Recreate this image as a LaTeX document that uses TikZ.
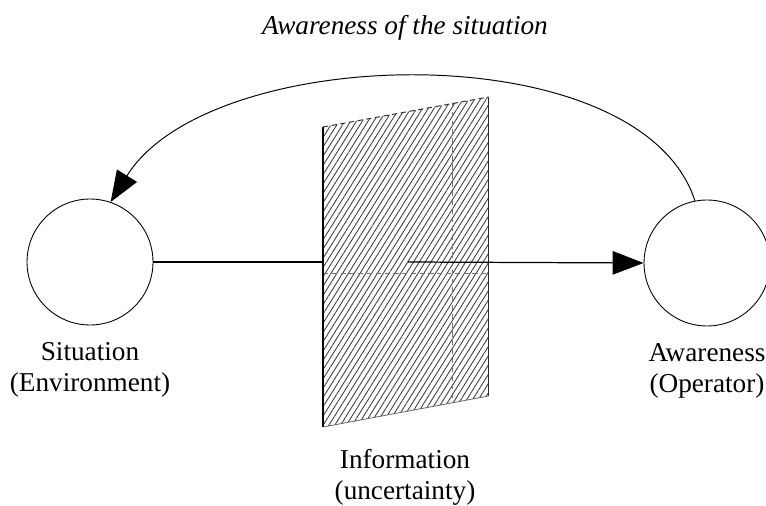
\documentclass[tikz,border=0pt]{standalone}
\usepackage{fontspec}
\setmainfont{Liberation Serif}
\usepackage{tikz}
\usetikzlibrary{arrows.meta,positioning,patterns.meta}

\begin{document}
\begin{tikzpicture}
    [x=0.02cm,y=-0.02cm,line width=0.7pt,
     state/.style={circle,draw=black,line width=0.5pt,minimum size=2.52cm,inner sep=0pt},
     lbl/.style={align=center,font=\fontsize{15.5}{17.5}\selectfont},
     tip/.style={-{Triangle[length=0.62cm,width=0.47cm]}}]
    \useasboundingbox (0,0) rectangle (766,506);
    \clip (0,0) rectangle (766,506);

    % the two states
    \node[state] (sit) at (90,262) {};
    \node[state] (aw) at (707,263) {};
    \node[lbl,below=0.22cm of sit] (sitlbl) {Situation\\(Environment)};
    \node[lbl,below=0.22cm of aw] (awlbl) {Awareness\\(Operator)};

    % information panel
    \coordinate (p1) at (323,127);
    \coordinate (p2) at (488.6,97);
    \coordinate (p3) at (488.6,396);
    \coordinate (p4) at (323,427);
    \draw (sit.east) -- (p1 |- sit.east);
    \fill[white] (p1) -- (p2) -- (p3) -- (p4) -- cycle;
    \fill[pattern={Lines[angle=58,distance=2.8pt,line width=0.5pt]},pattern color=black!75]
        (p1) -- (p2) -- (p3) -- (p4) -- cycle;
    \draw[black!55,densely dashed,line width=0.4pt] (452,103) -- (452,402);
    \draw[black!55,densely dashed,line width=0.4pt] (323,273) -- (489,273);
    \draw[line width=0.65pt] (p1) -- (p4);
    \draw[black!85,line width=0.4pt] (p2) -- (p3);
    \draw[black!80,densely dashed,line width=0.55pt] (p1) -- (p2);
    \draw[black!60,line width=0.45pt] (p4) -- (p3);
    \node[lbl] (info) at (405,477) {Information\\(uncertainty)};

    % connectors
    \coordinate (mid) at (408,262);
    \draw[tip] (mid) -- (aw.west);
    \draw[tip,line width=0.55pt] (aw.101) .. controls (640,32) and (210,42) .. (sit.71);
    \node[lbl,font=\fontsize{15.5}{17.5}\selectfont\itshape] (top) at (405,28) {Awareness of the situation};
\end{tikzpicture}
\end{document}
